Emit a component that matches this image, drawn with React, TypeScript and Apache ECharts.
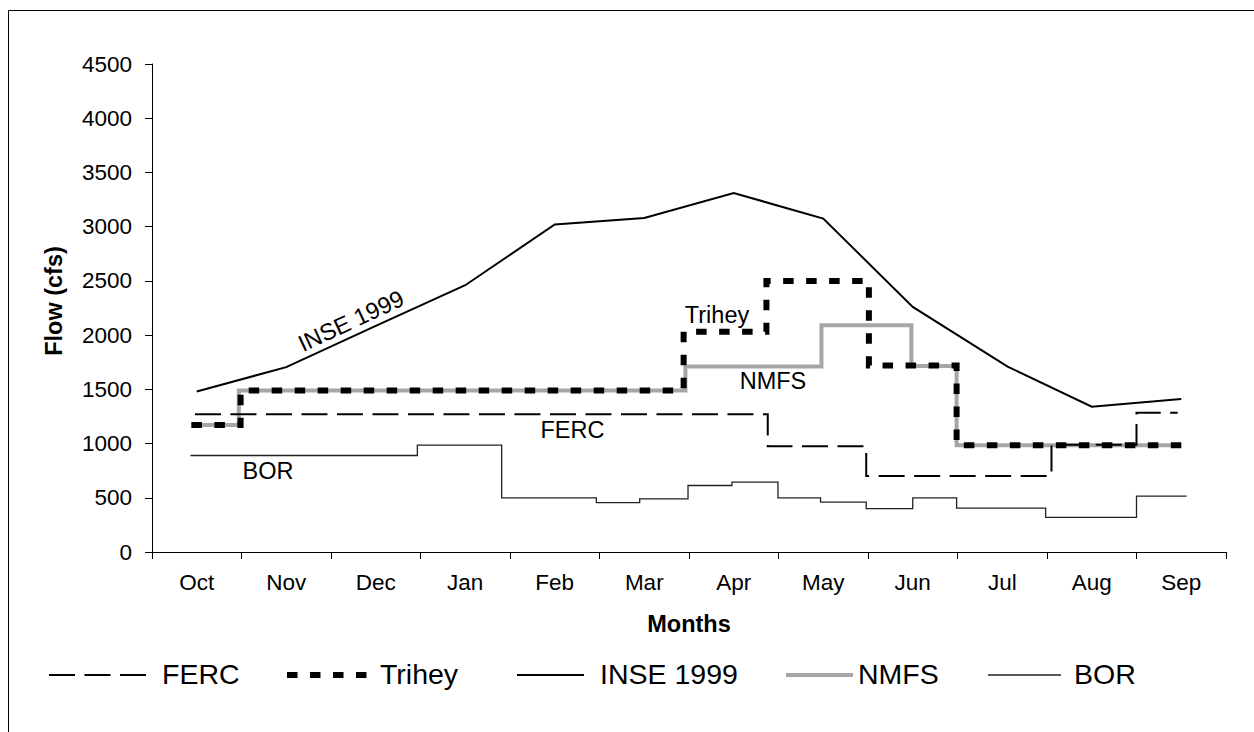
import React, { useEffect, useRef } from "react";
import * as echarts from "echarts";

// Categories (months) and axis range
const months = ["Oct", "Nov", "Dec", "Jan", "Feb", "Mar", "Apr", "May", "Jun", "Jul", "Aug", "Sep"];
const yMin = 0;
const yMax = 4500;
const yStep = 500;

const seriesNames = ["FERC", "Trihey", "INSE 1999", "NMFS", "BOR"];

// x positions are in month units (0 = start of Oct, 12 = end of Sep); y in cfs
const fercX = [0.48, 6.88, 7.98, 10.05, 11.0, 11.46];
const fercY = [1270, 975, 700, 990, 1285, 1285];

const triheyX = [0.44, 0.99, 5.94, 6.865, 8.01, 8.99, 11.5];
const triheyY = [1170, 1490, 2030, 2500, 1720, 985, 985];

const inseX = [0.5, 1.5, 2.5, 3.5, 4.5, 5.5, 6.5, 7.5, 8.5, 9.56, 10.5, 11.5];
const inseY = [1480, 1705, 2085, 2460, 3020, 3080, 3310, 3075, 2260, 1710, 1340, 1410];

const nmfsX = [0.44, 0.97, 5.96, 7.48, 8.485, 8.99, 11.5];
const nmfsY = [1170, 1490, 1710, 2090, 1715, 985, 985];

const borX = [0.43, 2.965, 3.907, 4.965, 5.449, 5.989, 6.48, 6.994, 7.47, 7.98, 8.5, 8.99, 9.985, 11.0, 11.56];
const borY = [890, 985, 500, 455, 490, 613, 645, 500, 460, 400, 500, 405, 320, 515, 515];

const FONT = "'Liberation Sans', Arial, Helvetica, sans-serif";
const GRAY = "#a6a6a6";

export default function App() {
  const ref = useRef<HTMLDivElement>(null);

  useEffect(() => {
    if (!ref.current) return;
    const chart = echarts.init(ref.current, null, { renderer: "svg" });
    const pair = (xs: number[], ys: number[]) => xs.map((x, i) => [x, ys[i]]);

    const styles = [
      { stroke: "#000", lineWidth: 2, lineDash: [26, 9.5] as number[] | null },
      { stroke: "#000", lineWidth: 6, lineDash: [10.5, 12.5] as number[] | null },
      { stroke: "#000", lineWidth: 2, lineDash: null },
      { stroke: GRAY, lineWidth: 4, lineDash: null },
      { stroke: "#222", lineWidth: 1.3, lineDash: null },
    ];
    const legendLayout = [
      { x1: 49, x2: 146, tx: 162 },
      { x1: 287, x2: 372, tx: 380 },
      { x1: 517, x2: 584, tx: 600 },
      { x1: 786, x2: 853, tx: 858 },
      { x1: 988, x2: 1061, tx: 1074 },
    ];
    const legendY = 675;

    const legendGraphics: any[] = [];
    seriesNames.forEach((name, i) => {
      const s = styles[i];
      const l = legendLayout[i];
      legendGraphics.push({
        type: "line",
        shape: { x1: l.x1, y1: legendY, x2: l.x2, y2: legendY },
        style: { stroke: s.stroke, lineWidth: s.lineWidth, lineDash: s.lineDash || undefined, lineCap: "butt" },
        silent: true,
      });
      legendGraphics.push({
        type: "text",
        x: l.tx,
        y: legendY - 1.5,
        style: { text: name, fontSize: 28.5, fontFamily: FONT, fill: "#000", align: "left", verticalAlign: "middle" },
        silent: true,
      });
    });

    const inPlotLabels = [
      { text: seriesNames[2], x: 351, y: 321, rotation: 0.436 },
      { text: seriesNames[1], x: 717, y: 315, rotation: 0 },
      { text: seriesNames[3], x: 773, y: 380.5, rotation: 0 },
      { text: seriesNames[0], x: 572.5, y: 430, rotation: 0 },
      { text: seriesNames[4], x: 268, y: 470.5, rotation: 0 },
    ].map((t) => ({
      type: "text",
      x: t.x,
      y: t.y,
      rotation: t.rotation,
      style: { text: t.text, fontSize: 23.5, fontFamily: FONT, fill: "#000", align: "center", verticalAlign: "middle" },
      silent: true,
    }));

    const mk = (i: number, data: number[][], z: number, step: string | false) => ({
      name: seriesNames[i],
      type: "line",
      xAxisIndex: 1,
      yAxisIndex: 0,
      step,
      showSymbol: false,
      symbol: "none",
      silent: true,
      z,
      lineStyle: {
        color: styles[i].stroke,
        width: styles[i].lineWidth,
        type: styles[i].lineDash ? styles[i].lineDash : "solid",
        cap: "butt",
        join: "miter",
      },
      data,
    });

    const option: any = {
      animation: false,
      backgroundColor: "#fff",
      textStyle: { fontFamily: FONT },
      grid: { left: 152, right: 28, top: 64, bottom: 180, containLabel: false },
      xAxis: [
        {
          type: "category",
          data: months,
          boundaryGap: true,
          axisLine: { show: true, lineStyle: { color: "#000", width: 1 } },
          axisTick: { show: true, length: 7, inside: false, lineStyle: { color: "#000" } },
          axisLabel: { color: "#000", fontSize: 22.5, fontFamily: FONT, margin: 19 },
          splitLine: { show: false },
          name: "Months",
          nameLocation: "middle",
          nameGap: 60,
          nameTextStyle: { color: "#000", fontSize: 23.5, fontWeight: "bold", fontFamily: FONT },
        },
        { type: "value", min: 0, max: 12, show: false },
      ],
      yAxis: [
        {
          type: "value",
          min: yMin,
          max: yMax,
          interval: yStep,
          axisLine: { show: true, lineStyle: { color: "#000", width: 1 } },
          axisTick: { show: true, length: 7, inside: false, lineStyle: { color: "#000" } },
          axisLabel: {
            color: "#000",
            fontSize: 22.5,
            fontFamily: FONT,
            margin: 20,
            formatter: (v: number) => String(v),
          },
          splitLine: { show: false },
        },
      ],
      series: [
        mk(4, pair(borX, borY), 2, "end"),
        mk(3, pair(nmfsX, nmfsY), 3, "end"),
        mk(0, pair(fercX, fercY), 4, "end"),
        mk(2, pair(inseX, inseY), 5, false),
        mk(1, pair(triheyX, triheyY), 6, "end"),
      ],
      graphic: [
        {
          type: "rect",
          shape: { x: 8.5, y: 10.5, width: 1400, height: 900 },
          style: { fill: "none", stroke: "#000", lineWidth: 1 },
          silent: true,
          z: -10,
        },
        {
          type: "text",
          x: 54,
          y: 301,
          rotation: Math.PI / 2,
          style: { text: "Flow (cfs)", fontSize: 23.5, fontWeight: "bold", fontFamily: FONT, fill: "#000", align: "center", verticalAlign: "middle" },
          silent: true,
        },
        ...inPlotLabels,
        ...legendGraphics,
      ],
    };

    chart.setOption(option);
    return () => chart.dispose();
  }, []);

  return (
    <div
      ref={ref}
      style={{ position: "fixed", left: 0, top: 0, width: 1254, height: 732, background: "#fff" }}
    />
  );
}
